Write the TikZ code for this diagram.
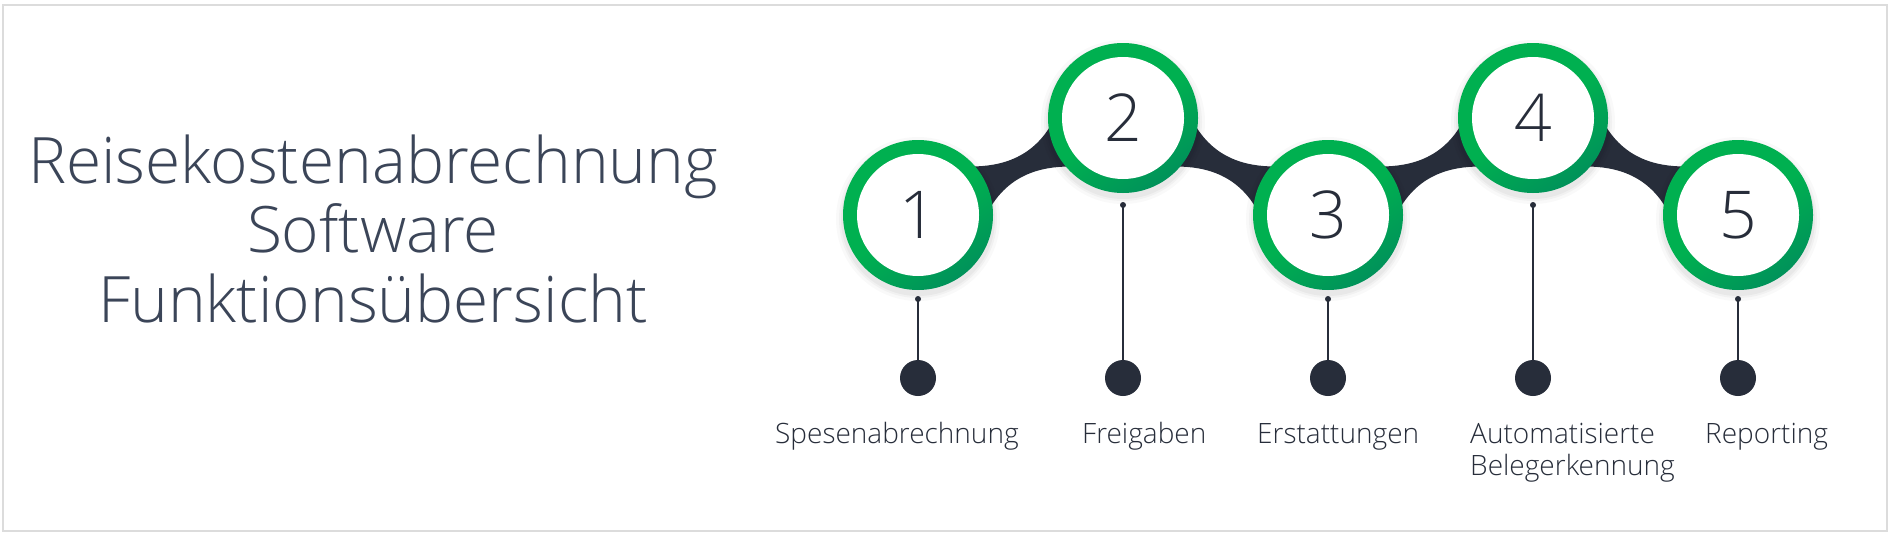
\documentclass[tikz,border=0pt]{standalone}
\usepackage{fontspec}
\IfFontExistsTF{Open Sans Light}{\setmainfont{Open Sans Light}}{\setmainfont{Open Sans}}
\definecolor{ink}{HTML}{272D3A}
\definecolor{titleink}{HTML}{3B4558}
\definecolor{gA}{HTML}{00B050}
\definecolor{gB}{HTML}{00925A}
\definecolor{framec}{HTML}{DCDCDC}
\tikzset{
  ringnode/.style={circle, inner sep=0pt, minimum size=150pt, top color=gA, bottom color=gB, middle color=gA, shading angle=35},
  innernode/.style={circle, fill=white, inner sep=0pt, minimum size=122pt, text=ink, font=\fontsize{66}{66}\selectfont},
  smalldot/.style={circle, fill=ink, inner sep=0pt, minimum size=6pt},
  bigdot/.style={circle, fill=ink, inner sep=0pt, minimum size=36pt},
  stem/.style={draw=ink, line width=1.2pt},
  band/.style={fill=ink},
  lbl/.style={inner sep=0pt, anchor=base west, align=left, text=ink, font=\fontsize{28}{32}\selectfont}
}
\begin{document}
\begin{tikzpicture}[x=1pt,y=-1pt]
\useasboundingbox (0,0) rectangle (1893,536);
\fill[white] (0,0) rectangle (1893,536);
\draw[framec, line width=1.5pt] (3,5) rectangle (1887,531);

% title (base anchor = baseline of the last line)
\node[inner sep=0pt, anchor=base, align=center, text=titleink, font=\fontsize{64}{69.5}\selectfont] (title) at (373,322)
  {Reisekostenabrechnung\\Software\\Funktionsübersicht};

% circle centres
\coordinate (p1) at (918,215);
\coordinate (p2) at (1123,118);
\coordinate (p3) at (1328,215);
\coordinate (p4) at (1533,118);
\coordinate (p5) at (1738,215);

% bands
\foreach \a/\b/\s in {p1/p2/1, p2/p3/-1, p3/p4/1, p4/p5/-1}{
  \path (\a) -- (\b) coordinate[midway] (m);
  \begin{scope}[shift={(m)}, xscale=\s]
    \fill[band] (-50,0) .. controls (-20,0) and (15,-8) .. (35,-50) -- (50,0)
      .. controls (20,0) and (-15,8) .. (-35,50) -- cycle;
  \end{scope}
}

% soft shadows
\foreach \i in {1,...,5}{
  \foreach \r/\o in {82/0.025, 79/0.03, 77/0.035}{
    \fill[black, opacity=\o] ([yshift=-4pt]p\i) circle[radius=\r];
  }
}

% rings and numbers
\foreach \i in {1,...,5}{
  \node[ringnode] (c\i) at (p\i) {};
  \node[innernode] (n\i) at (p\i) {\i};
}

% stems and dots
\node[smalldot] (s1) at (918,299) {};
\node[smalldot] (s2) at (1123,205) {};
\node[smalldot] (s3) at (1328,299) {};
\node[smalldot] (s4) at (1533,205) {};
\node[smalldot] (s5) at (1738,299) {};
\foreach \i/\x in {1/918, 2/1123, 3/1328, 4/1533, 5/1738}{
  \node[bigdot] (d\i) at (\x,378) {};
  \draw[stem] (s\i.center) -- (d\i.center);
}

% labels
\node[lbl] (l1) at (775,443) {Spesenabrechnung};
\node[lbl] (l2) at (1082,443) {Freigaben};
\node[lbl] (l3) at (1257,443) {Erstattungen};
\node[lbl] (l4) at (1470,475) {Automatisierte\\Belegerkennung};
\node[lbl] (l5) at (1705,443) {Reporting};
\end{tikzpicture}
\end{document}
